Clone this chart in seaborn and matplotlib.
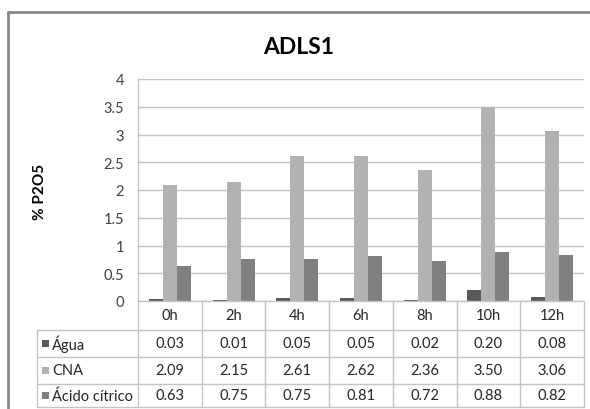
import matplotlib
matplotlib.use("Agg")
import matplotlib.pyplot as plt
from matplotlib.lines import Line2D
from matplotlib.patches import Rectangle
import seaborn as sns
import pandas as pd

# Sampling times and measured P2O5 percentages per extractant
times = ["0h", "2h", "4h", "6h", "8h", "10h", "12h"]
series_names = ["Água", "CNA", "Ácido cítrico"]
agua = [0.03, 0.01, 0.05, 0.05, 0.02, 0.20, 0.08]
cna = [2.09, 2.15, 2.61, 2.62, 2.36, 3.50, 3.06]
acido_citrico = [0.63, 0.75, 0.75, 0.81, 0.72, 0.88, 0.82]
y_ticks = [0, 0.5, 1, 1.5, 2, 2.5, 3, 3.5, 4]
y_tick_labels = ["0", "0.5", "1", "1.5", "2", "2.5", "3", "3.5", "4"]

colors = {"Água": "#595959", "CNA": "#b2b2b2", "Ácido cítrico": "#808080"}

sns.set_style("white")
plt.rcParams["font.family"] = ["Lato", "DejaVu Sans"]

W, H = 590, 410
fig = plt.figure(figsize=(W / 100, H / 100), dpi=100)


def fx(x):
    return x / W


def fy(y):
    return 1 - y / H


# Plot area
ax_left, ax_right, ax_top, ax_bottom = 138, 584, 80, 302
ax = fig.add_axes([fx(ax_left), fy(ax_bottom), fx(ax_right - ax_left), (ax_bottom - ax_top) / H])

df = pd.DataFrame({
    "time": times * 3,
    "serie": [series_names[0]] * 7 + [series_names[1]] * 7 + [series_names[2]] * 7,
    "valor": agua + cna + acido_citrico,
})
sns.barplot(data=df, x="time", y="valor", hue="serie", order=times,
            hue_order=series_names, palette=colors, width=0.66, gap=0,
            edgecolor="none", linewidth=0, ax=ax, legend=False)

ax.set_xlim(-0.5, len(times) - 0.5)
ax.set_ylim(0, 4)
ax.set_yticks(y_ticks)
ax.set_yticklabels(y_tick_labels, fontsize=10.5, color="#404040")
ax.yaxis.grid(True, color="#c4c4c4", linewidth=1)
ax.set_axisbelow(True)
ax.set_xticks([])
ax.set_xlabel("")
ax.set_ylabel("")
ax.tick_params(axis="y", length=0, pad=10)
for side in ["top", "right", "bottom"]:
    ax.spines[side].set_visible(False)
ax.spines["left"].set_color("#c4c4c4")
ax.spines["left"].set_linewidth(1)

# Title and axis label
fig.text(fx(299), fy(48), "ADLS1", ha="center", va="center",
         fontsize=16.5, fontweight="bold", color="#000000")
fig.text(fx(40), fy(192), "% P2O5", ha="center", va="center",
         rotation=90, fontsize=11, fontweight="bold", color="#000000")

# Data table below the plot
line_color = "#c4c4c4"
tbl_left = 37
row_lines = [302, 331, 358, 385, 408]
col_w = (ax_right - ax_left) / len(times)
col_edges = [ax_left + i * col_w for i in range(len(times) + 1)]


def hline(x0, x1, y):
    fig.add_artist(Line2D([fx(x0), fx(x1)], [fy(y), fy(y)], color=line_color,
                          linewidth=1, transform=fig.transFigure))


def vline(x, y0, y1):
    fig.add_artist(Line2D([fx(x), fx(x)], [fy(y0), fy(y1)], color=line_color,
                          linewidth=1, transform=fig.transFigure))


hline(ax_left, ax_right, row_lines[0])
for y in row_lines[1:]:
    hline(tbl_left, ax_right, y)
for x in col_edges:
    vline(x, row_lines[0], row_lines[-1])
vline(tbl_left, row_lines[1], row_lines[-1])

text_color = "#262626"
for i, t in enumerate(times):
    cx = col_edges[i] + col_w / 2
    fig.text(fx(cx), fy((row_lines[0] + row_lines[1]) / 2), t, ha="center",
             va="center", fontsize=10.5, color=text_color)

table_rows = [agua, cna, acido_citrico]
for r, (name, vals) in enumerate(zip(series_names, table_rows)):
    y0, y1 = row_lines[r + 1], row_lines[r + 2]
    cy = (y0 + y1) / 2
    fig.add_artist(Rectangle((fx(42), fy(cy + 3.5)), fx(7), 7 / H,
                             facecolor=colors[name], edgecolor="none",
                             transform=fig.transFigure))
    fig.text(fx(52), fy(cy), name, ha="left", va="center", fontsize=10.5,
             color=text_color)
    for i, v in enumerate(vals):
        cx = col_edges[i] + col_w / 2
        fig.text(fx(cx), fy(cy), f"{v:.2f}", ha="center", va="center",
                 fontsize=10.5, color=text_color)

# Chart frame
frame = "#878787"
fig.add_artist(Line2D([fx(8), fx(8)], [fy(13), 0], color=frame, linewidth=2,
                      transform=fig.transFigure))
fig.add_artist(Line2D([fx(8), 1], [fy(13), fy(13)], color=frame, linewidth=2,
                      transform=fig.transFigure))

fig.savefig("out.png", dpi=100)
